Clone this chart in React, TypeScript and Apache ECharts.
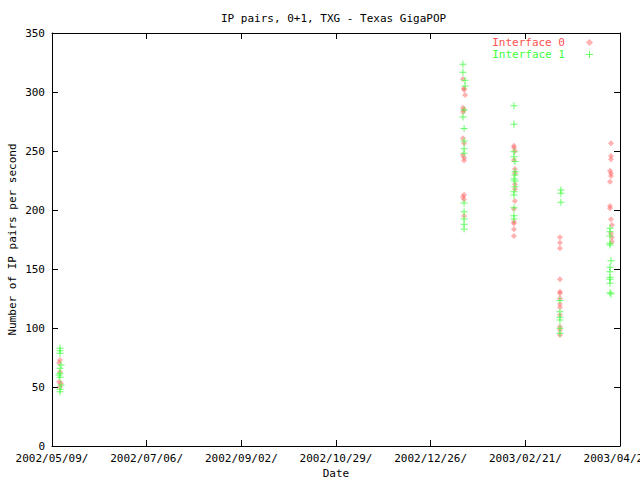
import React, { useEffect, useRef } from "react";
import * as echarts from "echarts";

// x = days since 2002/05/09, y = IP pairs per second
const xTickLabels = ["2002/05/09/", "2002/07/06/", "2002/09/02/", "2002/10/29/", "2002/12/26/", "2003/02/21/", "2003/04/20/"];
const TICK_DAYS = 57.87;

const iface0Days = [
  4.9, 4.3, 4.9, 4.3, 5.5, 4.9,
  251.2, 251.9, 252.5, 251.2, 251.9, 251.2, 251.2, 251.9, 251.2, 251.9, 251.9, 251.9, 251.2, 251.9, 251.9, 251.9,
  282.4, 282.4, 283.0, 282.4, 283.0, 283.0, 283.0, 283.0, 283.0, 282.4, 282.4, 282.4, 282.4, 282.4,
  310.5, 310.5, 310.5, 310.5, 310.5, 310.5, 310.5, 310.5, 310.5, 310.5, 310.5, 310.5, 310.5,
  341.7, 341.7, 341.7, 341.1, 341.7, 341.7, 341.1, 341.1, 341.1, 341.7, 342.3, 341.7, 342.3, 342.3,
];
const iface0Values = [
  72.9, 70.6, 63, 54.5, 53.1, 50.3,
  311, 303, 297.5, 286.7, 284.8, 283, 260.8, 256.5, 246.6, 244.3, 242, 213, 211, 209, 195, 302,
  254.5, 252.8, 250, 242.4, 234.8, 231.1, 221.8, 217.8, 207.6, 200.9, 190.1, 183.6, 178, 188.5,
  176.9, 172.3, 167.5, 141.3, 130.8, 129.4, 125.2, 120.3, 117.5, 111, 101.1, 98.3, 94.1,
  256.5, 245.8, 243, 233.3, 231.1, 228.8, 224, 203.4, 201.4, 192.1, 187.3, 180.3, 176.9, 173.1,
];

const iface1Days = [
  4.9, 4.9, 4.9, 5.5, 4.9, 4.9, 4.3, 4.9, 5.5, 4.9, 4.9,
  251.2, 251.2, 252.5, 252.5, 251.9, 251.2, 251.9, 251.9, 251.9, 251.9, 251.9, 251.9, 251.9, 251.9, 251.9,
  282.4, 282.4, 282.4, 282.4, 283.0, 283.0, 283.0, 282.4, 283.0, 283.0, 282.4, 282.4, 282.4, 282.4, 282.4,
  311.1, 311.1, 311.1, 310.5, 310.5, 310.5, 310.5, 310.5, 310.5,
  341.1, 341.1, 341.1, 341.1, 341.1, 341.7, 341.1, 341.1, 341.1, 341.1, 341.1, 341.1, 341.7,
];
const iface1Values = [
  82.8, 80.8, 78.6, 68.6, 65.8, 61.6, 60.2, 58.2, 51.7, 48, 46,
  323.5, 316.7, 310, 305, 284.8, 278.8, 269, 258.5, 252, 248, 206, 198.6, 192.4, 187.9, 184,
  288.4, 272.6, 249.4, 245.2, 241, 232.5, 229.7, 226.3, 224.6, 219.8, 215.5, 212.7, 202, 195.2, 192.4,
  217, 214.2, 206.5, 123.2, 113.8, 109.1, 106.8, 99.7, 95.5,
  184.5, 181.6, 178, 171.8, 170.3, 157, 151.4, 147.7, 143, 141.3, 137.9, 129.9, 128.8,
];

const FONT = "DejaVu Sans Mono";
const RED = "#ff5050";
const GREEN = "#40ff40";
const PLUS = "path://M3,0h1v3h3v1h-3v3h-1v-3h-3v-1h3z";

export default function App() {
  const ref = useRef<HTMLDivElement>(null);
  useEffect(() => {
    const chart = echarts.init(ref.current!, null, { renderer: "svg" });
    const xMax = TICK_DAYS * 6;
    const xLabel = (v: number) => {
      const i = Math.round(v / TICK_DAYS);
      return xTickLabels[i] ?? "";
    };
    const axisCommon = {
      axisLine: { show: true, onZero: false, lineStyle: { color: "#000", width: 1 } },
      axisTick: { show: true, inside: true, length: 6, lineStyle: { color: "#000" } },
      splitLine: { show: false },
    };
    chart.setOption({
      animation: false,
      backgroundColor: "#fff",
      textStyle: { fontFamily: FONT },
      title: {
        text: "IP pairs, 0+1, TXG - Texas GigaPOP",
        left: 216,
        top: 8,
        textStyle: { fontFamily: FONT, fontSize: 11, fontWeight: "normal", color: "#000" },
      },
      legend: {
        orient: "vertical",
        right: 42,
        top: 32,
        align: "right",
        itemWidth: 7,
        itemHeight: 7,
        itemGap: 1,
        textStyle: { fontFamily: FONT, fontSize: 11, padding: [0, 16, 0, 0] },
        data: [
          { name: "Interface 0", textStyle: { color: RED } },
          { name: "Interface 1", textStyle: { color: GREEN } },
        ],
      },
      grid: { left: 52, right: 20, top: 33, bottom: 34, outerBoundsMode: "none", containLabel: false },
      xAxis: [
        {
          type: "value",
          min: 0,
          max: xMax,
          interval: TICK_DAYS,
          position: "bottom",
          name: "Date",
          nameLocation: "middle",
          nameGap: 22,
          nameMoveOverlap: false,
          nameTextStyle: { fontFamily: FONT, fontSize: 11, color: "#000" },
          ...axisCommon,
          axisLabel: { formatter: xLabel, fontFamily: FONT, fontSize: 11, color: "#000", margin: 7, showMaxLabel: true, showMinLabel: true },
        },
        {
          type: "value",
          min: 0,
          max: xMax,
          interval: TICK_DAYS,
          position: "top",
          ...axisCommon,
          axisLabel: { show: false },
        },
      ],
      yAxis: [
        {
          type: "value",
          min: 0,
          max: 350,
          interval: 50,
          position: "left",
          name: "Number of IP pairs per second",
          nameLocation: "middle",
          nameGap: 34,
          nameMoveOverlap: false,
          nameTextStyle: { fontFamily: FONT, fontSize: 11, color: "#000" },
          ...axisCommon,
          axisLabel: { fontFamily: FONT, fontSize: 11, color: "#000", margin: 7 },
        },
        {
          type: "value",
          min: 0,
          max: 350,
          interval: 50,
          position: "right",
          ...axisCommon,
          axisLabel: { show: false },
        },
      ],
      series: [
        {
          name: "Interface 0",
          type: "scatter",
          symbol: "diamond",
          symbolSize: 6,
          itemStyle: { color: "rgba(255,80,80,0.55)" },
          data: iface0Days.map((d, i) => [d, iface0Values[i]]),
        },
        {
          name: "Interface 1",
          type: "scatter",
          symbol: PLUS,
          symbolSize: 7,
          itemStyle: { color: GREEN },
          data: iface1Days.map((d, i) => [d, iface1Values[i]]),
        },
      ],
    });
    return () => chart.dispose();
  }, []);
  return <div ref={ref} style={{ position: "fixed", left: 0, top: 0, width: 640, height: 480 }} />;
}
